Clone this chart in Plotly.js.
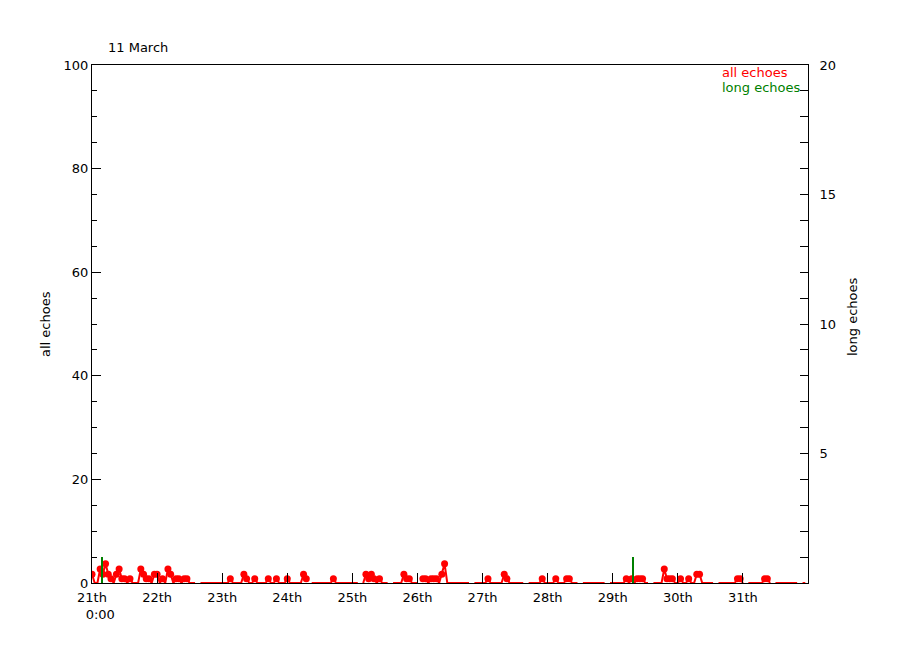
<!DOCTYPE html>
<html>
<head>
<meta charset="utf-8">
<script src="https://cdn.plot.ly/plotly-3.0.1.min.js"></script>
<style>html,body{margin:0;padding:0;background:#fff;}#chart{width:900px;height:650px;}</style>
</head>
<body>
<div id="chart"></div>
<script>
// Hourly "all echoes" rate, 21st 0:00 to 31st 23:00 (null = missing data)
var allEchoes = [
  // 21st
  1.7,0,0,2.7,1.7,3.7,1.7,0.8,0,1.7,2.7,0.8,0.8,0,0.8,0,0,0,2.7,1.7,0.8,0.8,0,1.7,
  // 22nd
  1.7,0,0.8,0,2.7,1.7,0,0.8,0.8,0,0.8,0.8,0,0,0,null,0,0,0,0,0,0,0,0,
  // 23rd
  0,0,0,0.8,0,0,0,0,1.7,0.8,0,0,0.8,0,0,0,0,0.8,0,0,0.8,0,0,0,
  // 24th
  0.8,0,0,0,0,0,1.7,0.8,null,0,0,0,0,0,0,0,0,0.8,0,0,0,0,0,0,
  // 25th
  0,0,0,null,0,1.7,0.8,1.7,0.8,0,0.8,0,0,0,null,0,0,0,0,1.7,0.8,0.8,0,0,
  // 26th
  0,null,0.8,0.8,0,0.8,0.8,0.8,0,1.7,3.7,0,0,0,0,0,0,0,0,0,null,0,0,0,
  // 27th
  0,0,0.8,0,0,0,0,0,1.7,0.8,0,0,0,0,0,0,null,0,0,0,0,0,0.8,0,
  // 28th
  0,0,0,0.8,0,0,0,0.8,0.8,0,0,0,null,0,0,0,0,0,0,0,0,0,null,0,
  // 29th
  0,0,0,0,0,0.8,0,0.8,0,0.8,0.8,0.8,0,0,null,0,0,0,0,2.7,0.8,0.8,0.8,0,
  // 30th
  0,0.8,0,0,0.8,0,0,1.7,1.7,0,0,0,0,0,null,0,0,0,0,0,0,0,0.8,0.8,
  // 31st
  0,null,0,0,0,0,0,0,0.8,0.8,0,null,0,0,0,0,0,0,0,0,0,null,0,0
];
// "long echoes" counts (hours after 21st 0:00)
var longHours = [3.6, 199.5];
var longCounts = [1, 1];
// x tick labels at each day boundary
var dayTickHours = [0,24,48,72,96,120,144,168,192,216,240];
var dayTickText = ["21th<br>&nbsp;&nbsp;&nbsp;&nbsp;0:00","22th","23th","24th","25th","26th","27th","28th","29th","30th","31th"];

var hourIdx = allEchoes.map(function(v,i){return i;});
var markerSizes = allEchoes.map(function(v){return (v !== null && v > 0) ? 7 : 0;});

var FONT = "DejaVu Sans, sans-serif";
var FS = 13;
var traces = [
  {
    type: "bar", x: longHours, y: longCounts, yaxis: "y2",
    width: 0.7, marker: {color: "#008000", line: {width: 0}},
    hoverinfo: "skip", showlegend: false
  },
  {
    type: "scatter", mode: "lines+markers", x: hourIdx, y: allEchoes,
    connectgaps: false,
    line: {color: "#ff0000", width: 2},
    marker: {color: "#ff0000", size: markerSizes, opacity: 1, line: {width: 0}},
    showlegend: false
  }
];

var layout = {
  width: 900, height: 650,
  margin: {l: 92, r: 92, t: 65, b: 67},
  paper_bgcolor: "#fff", plot_bgcolor: "#fff",
  font: {family: FONT, size: FS, color: "#000"},
  showlegend: false,
  bargap: 0,
  title: {text: "11 March", x: 108/900, xanchor: "left", xref: "container",
          y: 1 - 47/650, yanchor: "middle", yref: "container",
          font: {family: FONT, size: FS, color: "#000"}},
  xaxis: {
    range: [0, 264], showgrid: false, zeroline: false,
    showline: true, linecolor: "#000", linewidth: 1, mirror: true,
    tickmode: "array", tickvals: dayTickHours, ticktext: dayTickText,
    ticks: "inside", ticklen: 10, tickcolor: "#000", tickwidth: 1,
    ticklabelstandoff: 2,
    tickfont: {family: FONT, size: FS, color: "#000"}
  },
  yaxis: {
    range: [0, 100], showgrid: false, zeroline: false,
    showline: true, linecolor: "#000", linewidth: 1,
    tickmode: "array", tickvals: [0,20,40,60,80,100],
    ticks: "inside", ticklen: 9, tickcolor: "#000",
    minor: {dtick: 5, ticks: "inside", ticklen: 5, tickcolor: "#000", showgrid: false},
    tickfont: {family: FONT, size: FS, color: "#000"}
  },
  yaxis2: {
    overlaying: "y", side: "right", anchor: "x",
    range: [0, 20], showgrid: false, zeroline: false,
    showline: true, linecolor: "#000", linewidth: 1,
    tickmode: "array", tickvals: [5,10,15,20],
    ticks: "inside", ticklen: 8, tickcolor: "#000",
    ticklabelstandoff: 8,
    minor: {dtick: 1, ticks: "inside", ticklen: 8, tickcolor: "#000", showgrid: false},
    tickfont: {family: FONT, size: FS, color: "#000"}
  },
  annotations: [
    {text: "all echoes", xref: "paper", yref: "paper", x: (720-92)/716, y: (583-73)/518,
     xanchor: "left", yanchor: "middle", showarrow: false, font: {family: FONT, size: FS, color: "#ff0000"}},
    {text: "long echoes", xref: "paper", yref: "paper", x: (720-92)/716, y: (583-87)/518,
     xanchor: "left", yanchor: "middle", showarrow: false, font: {family: FONT, size: FS, color: "#008000"}},
    {text: "all echoes", xref: "paper", yref: "paper", x: (45-92)/716, y: 0.5, textangle: -90,
     xanchor: "center", yanchor: "middle", showarrow: false, font: {family: FONT, size: FS, color: "#000"}},
    {text: "long echoes", xref: "paper", yref: "paper", x: 1 + (852-808)/716, y: (583-317)/518, textangle: -90,
     xanchor: "center", yanchor: "middle", showarrow: false, font: {family: FONT, size: FS, color: "#000"}}
  ]
};

Plotly.newPlot("chart", traces, layout, {displayModeBar: false, staticPlot: true});
</script>
</body>
</html>
